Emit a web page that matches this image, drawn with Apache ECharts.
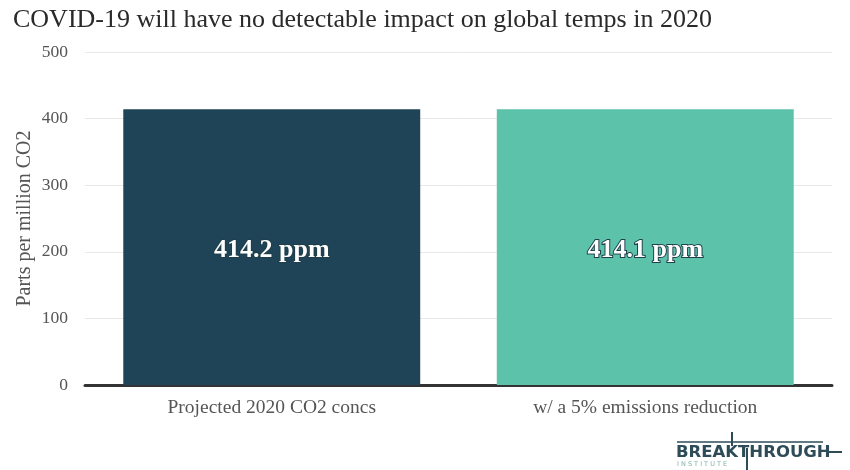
<!DOCTYPE html>
<html><head><meta charset="utf-8">
<script src="https://cdn.jsdelivr.net/npm/echarts@6/dist/echarts.min.js"></script>
<style>html,body{margin:0;padding:0;background:#fff}#c{width:850px;height:470px}</style>
</head><body><div id="c"></div>
<script>
var categories = ['Projected 2020 CO2 concs', 'w/ a 5% emissions reduction'];
var values = [414.2, 414.1];
var barLabels = ['414.2 ppm', '414.1 ppm'];
var barColors = ['#1f4357', '#5cc2aa'];
var yTicks = [0, 100, 200, 300, 400, 500];

var serif = '"Liberation Serif", "DejaVu Serif", serif';
var chart = echarts.init(document.getElementById('c'));
chart.setOption({
  animation: false,
  title: {
    text: 'COVID-19 will have no detectable impact on global temps in 2020',
    left: 8, top: 2,
    textStyle: { fontFamily: serif, fontSize: 26, fontWeight: 'normal', color: '#2a2a2a' }
  },
  grid: { left: 85, right: 18, top: 52, bottom: 85 },
  xAxis: {
    type: 'category', data: categories,
    axisLine: { lineStyle: { color: '#333', width: 3 } },
    axisTick: { show: false },
    axisLabel: { fontFamily: serif, fontSize: 19.5, color: '#555', margin: 13 }
  },
  yAxis: {
    type: 'value', min: yTicks[0], max: yTicks[yTicks.length - 1], interval: 100,
    name: 'Parts per million CO2', nameLocation: 'middle', nameGap: 50, nameMoveOverlap: false,
    nameTextStyle: { fontFamily: serif, fontSize: 20, color: '#555' },
    axisLine: { show: false }, axisTick: { show: false },
    axisLabel: { fontFamily: serif, fontSize: 17.5, color: '#555', margin: 17 },
    splitLine: { lineStyle: { color: '#e8e8e8', width: 1 } }
  },
  series: [{
    type: 'bar', barWidth: '79.5%',
    data: values.map(function (v, i) {
      return { value: v, itemStyle: { color: barColors[i] } };
    }),
    label: {
      show: true, position: 'inside', offset: [0, 3],
      formatter: function (p) { return barLabels[p.dataIndex]; },
      fontFamily: serif, fontSize: 26, fontWeight: 'bold', color: '#fff',
      textBorderColor: '#1f3f4a', textBorderWidth: 2
    }
  }],
  graphic: [
    { type: 'line', shape: { x1: 677, y1: 442, x2: 823, y2: 442 }, style: { stroke: '#2d4c58', lineWidth: 1.5 } },
    { type: 'line', shape: { x1: 732, y1: 432, x2: 732, y2: 446 }, style: { stroke: '#2d4c58', lineWidth: 2 } },
    { type: 'text', left: 676, top: 444, style: { text: 'BREAKTHROUGH', fontFamily: '"DejaVu Sans", sans-serif', fontWeight: 'bold', fontSize: 16.5, fill: '#2d4c58' } },
    { type: 'line', shape: { x1: 747, y1: 448, x2: 747, y2: 470 }, style: { stroke: '#2d4c58', lineWidth: 2 } },
    { type: 'line', shape: { x1: 828, y1: 452, x2: 842, y2: 452 }, style: { stroke: '#2d4c58', lineWidth: 2 } },
    { type: 'text', left: 677, top: 461, style: { text: 'I N S T I T U T E', fontFamily: '"DejaVu Sans", sans-serif', fontSize: 6.5, fill: '#7fb3a8' } }
  ]
});
</script></body></html>
